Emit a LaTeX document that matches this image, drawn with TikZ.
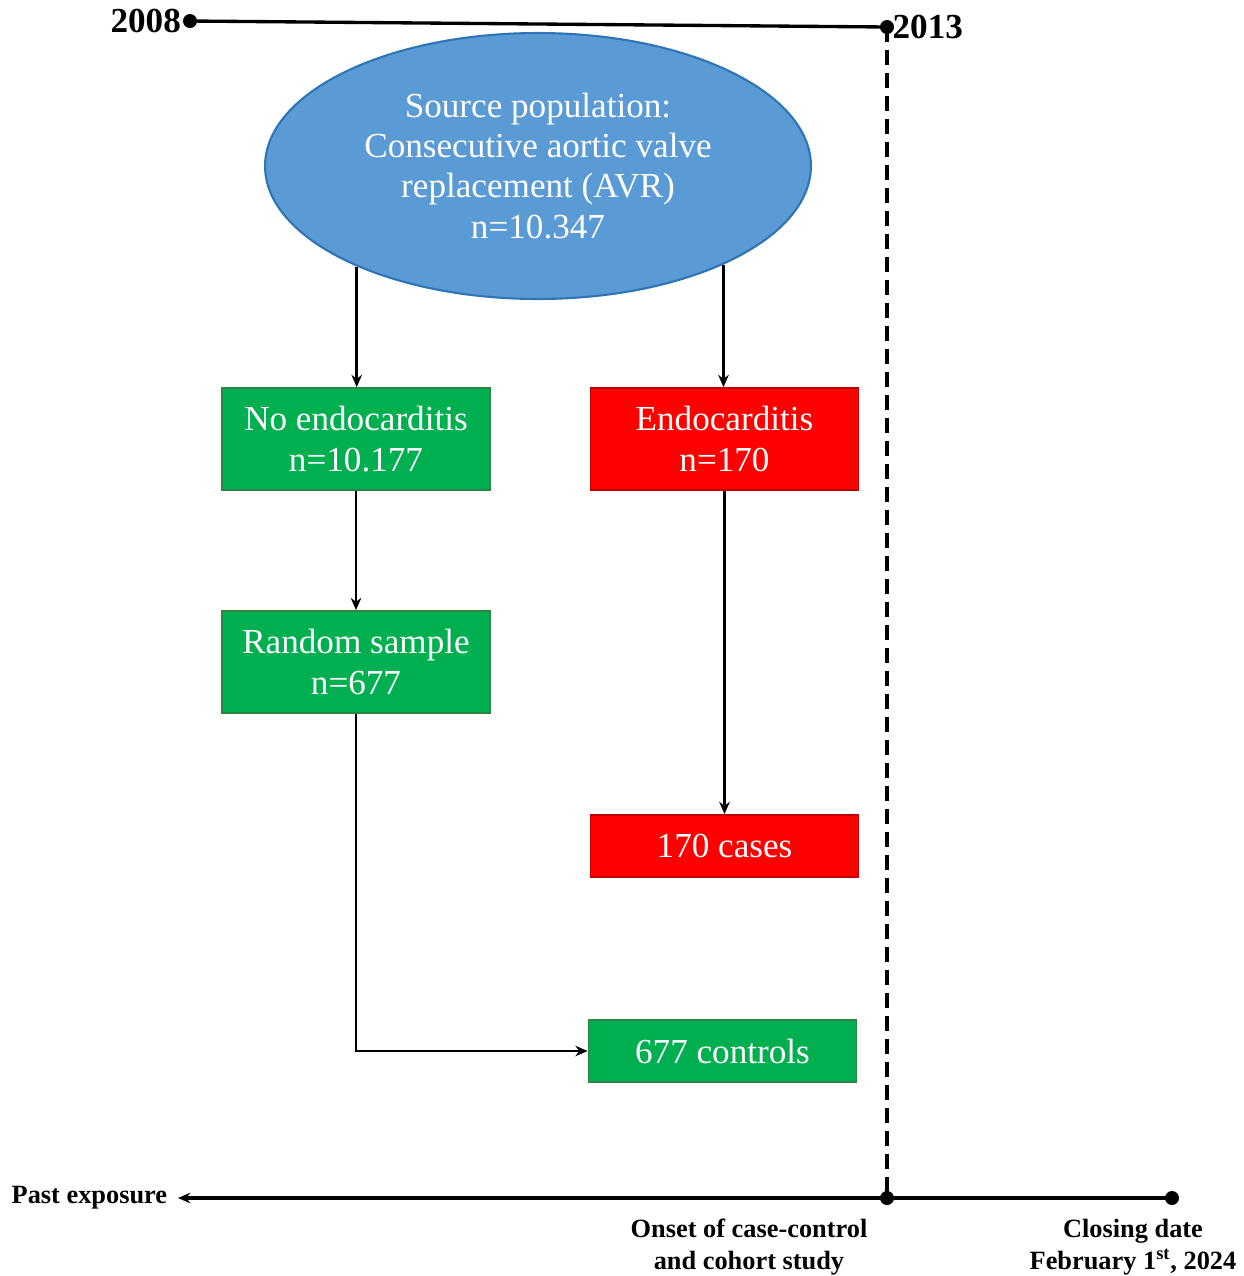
\documentclass[tikz,border=0pt]{standalone}
\usepackage{fontspec}
\setmainfont{Liberation Serif}
\usetikzlibrary{shapes.geometric,arrows.meta}
\definecolor{avrblue}{HTML}{5B9BD5}
\definecolor{avrblueline}{HTML}{2E75B6}
\definecolor{boxgreen}{HTML}{00B050}
\definecolor{boxgreenline}{HTML}{2E8540}
\definecolor{boxred}{HTML}{FF0000}
\definecolor{boxredline}{HTML}{C00000}

\begin{document}
\begin{tikzpicture}[>={Stealth[length=7pt,width=6pt]},x=0.02cm,y=-0.02cm,
    box/.style={draw,line width=1pt,text=white,align=center,inner sep=0pt,
      minimum width=5.36cm,font=\fontsize{20}{23}\selectfont},
    greenbox/.style={box,fill=boxgreen,draw=boxgreenline},
    redbox/.style={box,fill=boxred,draw=boxredline},
    flow/.style={line width=1.6pt,->},
    timeline/.style={line width=1.9pt},
    yearlabel/.style={font=\fontsize{20}{23}\selectfont\bfseries},
    timelabel/.style={font=\fontsize{15}{18}\selectfont\bfseries,align=center}]
    \useasboundingbox (0,0) rectangle (1244,1276);

    % flow chart
    \node[ellipse,draw=avrblueline,line width=1.2pt,fill=avrblue,text=white,align=center,
      minimum width=10.92cm,minimum height=5.32cm,inner sep=0pt,font=\fontsize{20}{22.8}\selectfont]
      (src) at (538,166) {Source population:\\Consecutive aortic valve\\replacement (AVR)\\n=10.347};
    \node[greenbox,minimum height=2.04cm] (noendo) at (356,439) {No endocarditis\\n=10.177};
    \node[redbox,minimum height=2.04cm] (endo) at (724.5,439) {Endocarditis\\n=170};
    \node[greenbox,minimum height=2.04cm] (sample) at (356,662) {Random sample\\n=677};
    \node[redbox,minimum height=1.24cm] (cases) at (724.5,846) {170 cases};
    \node[greenbox,minimum height=1.24cm] (controls) at (722.5,1051) {677 controls};

    \draw[flow] (src.209.5) -- (src.209.5 |- noendo.north);
    \draw[flow] (src.332.5) -- (src.332.5 |- endo.north);
    \draw[flow] (noendo) -- (sample);
    \draw[flow] (endo) -- (cases);
    \draw[flow] (sample.south) |- (controls.west);

    % time axes
    \coordinate (y2008) at (190,21);
    \coordinate (y2013) at (887,27);
    \coordinate (onset) at (887,1198);
    \coordinate (past) at (178,1198);
    \coordinate (closing) at (1172,1198);

    \draw[timeline] (y2008) -- (y2013);
    \draw[timeline,dash pattern=on 0.3cm off 0.16cm] (y2013) -- (onset);
    \draw[timeline,->] (onset) -- (past);
    \draw[timeline] (onset) -- (closing);
    \foreach \c in {y2008,y2013,onset,closing}
      \fill (\c) circle (7);

    \node[yearlabel,anchor=east,inner sep=5pt] (l2008) at (y2008) {2008};
    \node[yearlabel,anchor=west,inner sep=3pt] (l2013) at (y2013) {2013};
    \node[timelabel,anchor=east,inner sep=6pt] (lpast) at (past) {Past exposure};
    \node[timelabel,anchor=north] (lonset) at (749,1213) {Onset of case-control\\and cohort study};
    \node[timelabel,anchor=north] (lclosing) at (1133,1213) {Closing date\\February 1\textsuperscript{st}, 2024};

  \end{tikzpicture}
\end{document}
